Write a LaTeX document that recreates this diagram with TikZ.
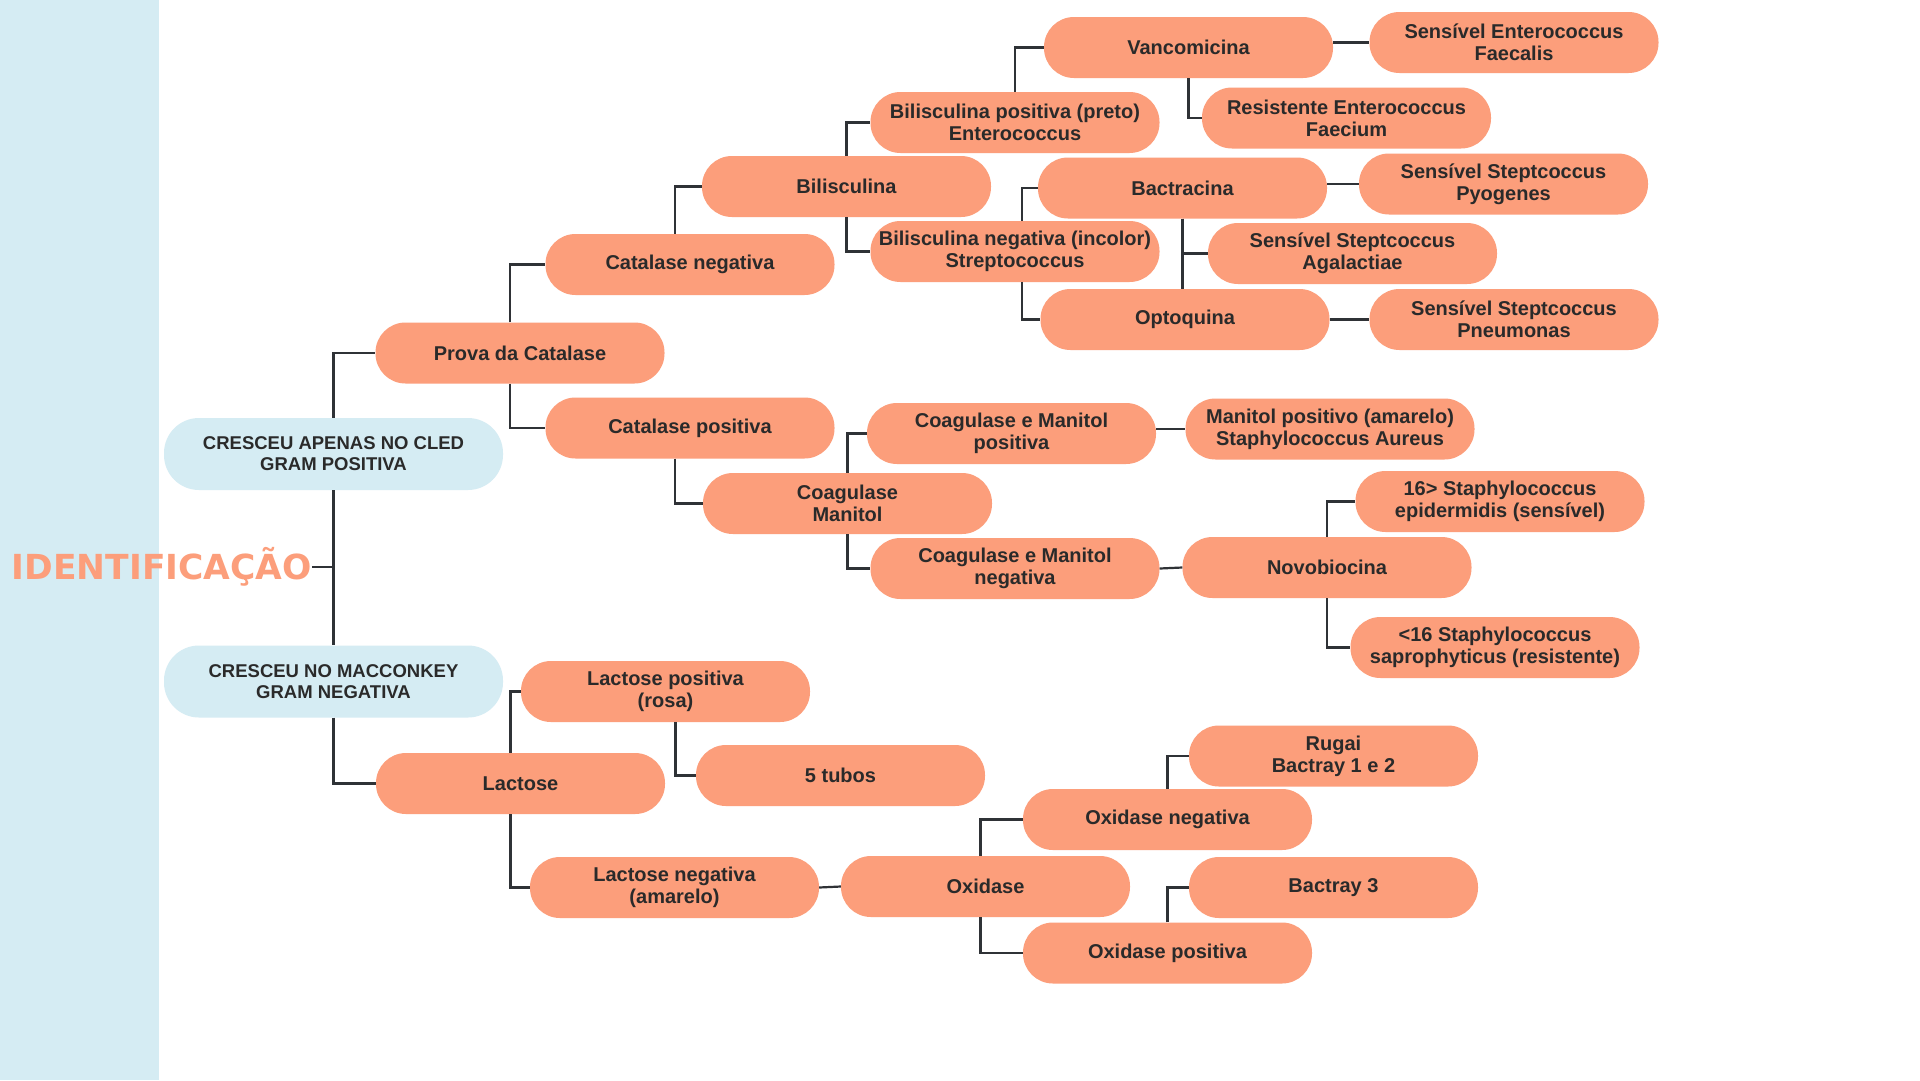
\documentclass[tikz,border=0pt]{standalone}
\usepackage{fontspec}
\setmainfont{Liberation Sans}
\newfontfamily\titlefont{DejaVu Sans}
\definecolor{idorange}{HTML}{FC9E7B}
\definecolor{idblue}{HTML}{D5ECF3}
\definecolor{idline}{HTML}{2F3236}
\definecolor{idtext}{HTML}{2A2A2A}
\begin{document}
\begin{tikzpicture}[x=1pt,y=-1pt,
    box/.style={fill=idorange,rounded corners=30pt,minimum width=289pt,
      minimum height=61pt,inner sep=0pt,align=center,text=idtext,
      font=\fontsize{20}{22}\selectfont\bfseries},
    start/.style={fill=idblue,rounded corners=35pt,minimum width=339pt,
      minimum height=72pt,inner sep=0pt,align=center,text=idtext,
      font=\fontsize{18.5}{21}\selectfont\bfseries}]
      \useasboundingbox (0,0) rectangle (1920,1080);
      \fill[white] (0,0) rectangle (1920,1080);
      \fill[idblue] (0,0) rectangle (159,1080);
      \path
        (312,567) node[anchor=east,inner sep=0pt,text=idorange,
          font=\titlefont\fontsize{34.5}{36}\selectfont\bfseries] (0){IDENTIFICAÇÃO}
        (333.5,454) node[start] (1){CRESCEU APENAS NO CLED\\GRAM POSITIVA}
        (333.5,681.5) node[start] (2){CRESCEU NO MACCONKEY\\GRAM NEGATIVA}
        (520,353) node[box] (3){Prova da Catalase}
        (690,264.5) node[box] (4){Catalase negativa}
        (690,428) node[box] (5){Catalase positiva}
        (846.5,186.5) node[box] (6){Bilisculina}
        (1015,122.5) node[box] (7){Bilisculina positiva (preto)\\Enterococcus}
        (1015,251.5) node[box] (8){Bilisculina negativa (incolor)\\Streptococcus}
        (1188.5,47.5) node[box] (9){Vancomicina}
        (1514,42.5) node[box] (10){Sensível Enterococcus\\Faecalis}
        (1346.5,118) node[box] (11){Resistente Enterococcus\\Faecium}
        (1182.5,188) node[box] (12){Bactracina}
        (1503.5,184) node[box] (13){Sensível Steptcoccus\\Pyogenes}
        (1352.5,253.5) node[box] (14){Sensível Steptcoccus\\Agalactiae}
        (1185,319.5) node[box] (15){Optoquina}
        (1514,319.5) node[box] (16){Sensível Steptcoccus\\Pneumonas}
        (847.5,503.5) node[box] (17){Coagulase\\Manitol}
        (1011.5,433.5) node[box] (18){Coagulase e Manitol\\positiva}
        (1015,568.5) node[box] (19){Coagulase e Manitol\\negativa}
        (1330,429) node[box] (20){Manitol positivo (amarelo)\\Staphylococcus Aureus}
        (1327,567.5) node[box] (21){Novobiocina}
        (1500,501.5) node[box] (22){16> Staphylococcus\\epidermidis (sensível)}
        (1495,647.5) node[box] (23){<16 Staphylococcus\\saprophyticus (resistente)}
        (520.5,783.5) node[box] (24){Lactose}
        (665.5,691.5) node[box] (25){Lactose positiva\\(rosa)}
        (840.5,775.5) node[box] (26){5 tubos}
        (674.5,887.5) node[box] (27){Lactose negativa\\(amarelo)}
        (985.5,886.5) node[box] (28){Oxidase}
        (1167.5,819.5) node[box] (29){Oxidase negativa}
        (1167.5,953) node[box] (30){Oxidase positiva}
        (1333.5,756) node[box] (31){Rugai\\Bactray 1 e 2}
        (1333.5,887.5) node[box] (32){Bactray 3};
      \begin{scope}[draw=idline,line width=2.2pt]
        \draw (0.east) -- (0.east -| 1.south);
        \draw (1.south) -- (2.north);
        \draw (1.north) |- (3.west);
        \draw ([xshift=-10pt]3.north) |- (4.west);
        \draw ([xshift=-10pt]3.south) |- (5.west);
        \draw ([xshift=-15pt]4.north) |- (6.west);
        \draw (6.north) |- (7.west);
        \draw (6.south) |- (8.west);
        \draw (7.north) |- (9.west);
        \draw (9.south) |- (11.west);
        \draw (10.west -| 9.east) -- (10.west);
        \draw ([xshift=7pt]8.north) |- (12.west);
        \draw ([xshift=7pt]8.south) |- (15.west);
        \draw (13.west -| 12.east) -- (13.west);
        \draw (12.south) -- (12.south |- 15.north);
        \draw (12.south) |- (14.west);
        \draw (15.east) -- (16.west);
        \draw ([xshift=-15pt]5.south) |- (17.west);
        \draw (17.north) |- (18.west);
        \draw (17.south) |- (19.west);
        \draw (20.west -| 18.east) -- (20.west);
        \draw (19.east) -- (21.west);
        \draw (21.north) |- (22.west);
        \draw (21.south) |- (23.west);
        \draw (2.south) |- (24.west);
        \draw ([xshift=-10pt]24.north) |- (25.west);
        \draw ([xshift=-10pt]24.south) |- (27.west);
        \draw ([xshift=10pt]25.south) |- (26.west);
        \draw (27.east) -- (28.west);
        \draw ([xshift=-5pt]28.north) |- (29.west);
        \draw ([xshift=-5pt]28.south) |- (30.west);
        \draw (29.north) |- (31.west);
        \draw (30.north) |- (32.west);
      \end{scope}
    \end{tikzpicture}
\end{document}
